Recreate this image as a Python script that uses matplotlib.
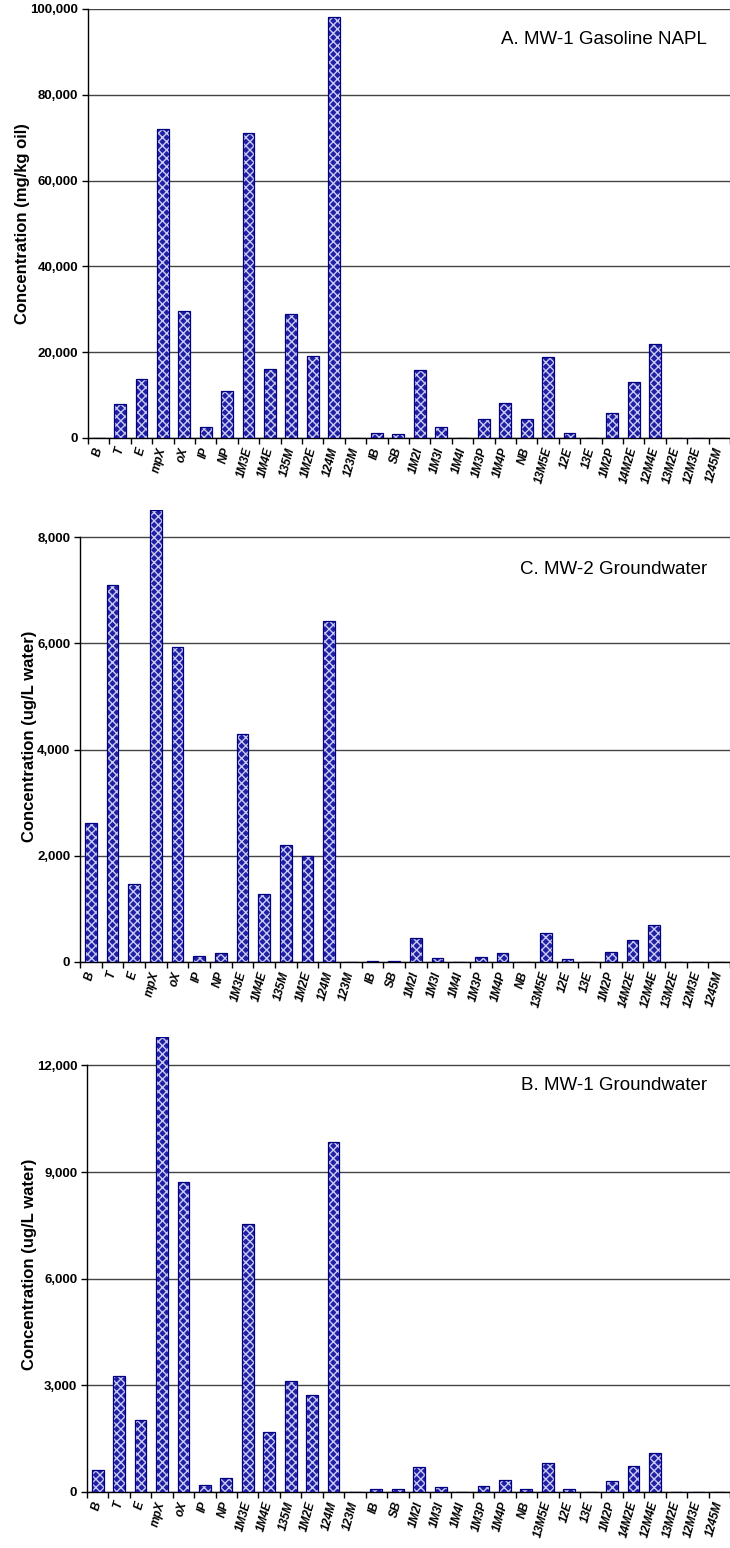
import numpy as np
import matplotlib.pyplot as plt
from matplotlib import ticker

plt.rcParams['font.family'] = ['Liberation Sans', 'DejaVu Sans']

compounds = ['B', 'T', 'E', 'mpX', 'oX', 'IP', 'NP', '1M3E', '1M4E', '135M', '1M2E',
             '124M', '123M', 'IB', 'SB', '1M2I', '1M3I', '1M4I', '1M3P', '1M4P', 'NB',
             '13M5E', '12E', '13E', '1M2P', '14M2E', '12M4E', '13M2E', '12M3E', '1245M']

# A. MW-1 gasoline NAPL, mg/kg oil
napl = [0, 7800, 13700, 72100, 29500, 2500, 11000, 71000, 16000, 29000, 19200,
        98100, 0, 1250, 1000, 15800, 2500, 0, 4350, 8250, 4350,
        18800, 1250, 0, 5900, 13000, 21850, 0, 0, 0]

# C. MW-2 groundwater, ug/L
mw2 = [2620, 7100, 1470, 8510, 5930, 120, 170, 4290, 1275, 2195, 1990,
       6425, 0, 25, 20, 450, 75, 0, 95, 170, 0,
       540, 56, 0, 190, 415, 690, 0, 0, 0]

# B. MW-1 groundwater, ug/L
mw1 = [610, 3250, 2035, 12800, 8710, 197, 385, 7535, 1700, 3120, 2730,
       9850, 0, 85, 85, 700, 140, 0, 170, 340, 95,
       825, 95, 0, 310, 730, 1090, 0, 0, 0]

panels = [
    # values, title, ylabel, yticks, ymax, axes rect, title y (fig fraction)
    (napl, 'A. MW-1 Gasoline NAPL', 'Concentration (mg/kg oil)',
     np.arange(0, 100001, 20000), 100000, [0.1205, 0.7171, 0.8795, 0.2771], 1 - 40 / 1548),
    (mw2, 'C. MW-2 Groundwater', 'Concentration (ug/L water)',
     np.arange(0, 8001, 2000), 8510, [0.1096, 0.3786, 0.8904, 0.2919], 1 - 570 / 1548),
    (mw1, 'B. MW-1 Groundwater', 'Concentration (ug/L water)',
     np.arange(0, 12001, 3000), 12800, [0.1192, 0.0362, 0.8808, 0.2939], 1 - 1086 / 1548),
]

fig = plt.figure(figsize=(7.3, 15.48), dpi=100)

for vals, title, ylab, yt, ymax, rect, ty in panels:
    ax = fig.add_axes(rect)
    x = np.arange(len(compounds))
    # patterned fill, then dark outline on top
    ax.bar(x, vals, width=0.55, color='#2020a4', edgecolor='#cacaf2',
           hatch='xxxx', linewidth=0, zorder=3)
    ax.bar(x, vals, width=0.55, facecolor='none', edgecolor='#000080',
           linewidth=0.9, zorder=4)
    ax.set_xlim(-0.5, len(compounds) - 0.5)
    ax.set_ylim(0, ymax)
    ax.set_yticks(yt)
    ax.yaxis.set_major_formatter(ticker.StrMethodFormatter('{x:,.0f}'))
    ax.grid(axis='y', color='#444444', linewidth=1.0, zorder=1)
    for s in ['top', 'right']:
        ax.spines[s].set_visible(False)
    ax.spines['left'].set_bounds(0, yt[-1])
    ax.spines['left'].set_linewidth(1.0)
    ax.spines['bottom'].set_linewidth(1.0)
    ax.tick_params(axis='y', labelsize=9.5, length=4, width=1, pad=3)
    for lbl in ax.get_yticklabels():
        lbl.set_fontweight('bold')

    # ticks between categories, labels at category centres
    ax.set_xticks(np.arange(-0.5, len(compounds), 1.0))
    ax.set_xticklabels([])
    ax.tick_params(axis='x', length=4, width=1)
    ax.set_xticks(x, minor=True)
    ax.set_xticklabels(compounds, minor=True, rotation=75, fontsize=8.5,
                       fontweight='bold', fontstyle='italic',
                       ha='right', va='center', rotation_mode='anchor')
    ax.tick_params(axis='x', which='minor', length=0, pad=7)

    ax.set_ylabel(ylab, fontsize=12, fontweight='bold', labelpad=0)
    fig.text(707 / 730, ty, title, ha='right', va='center', fontsize=13.5)

fig.savefig('out.png', dpi=100)
